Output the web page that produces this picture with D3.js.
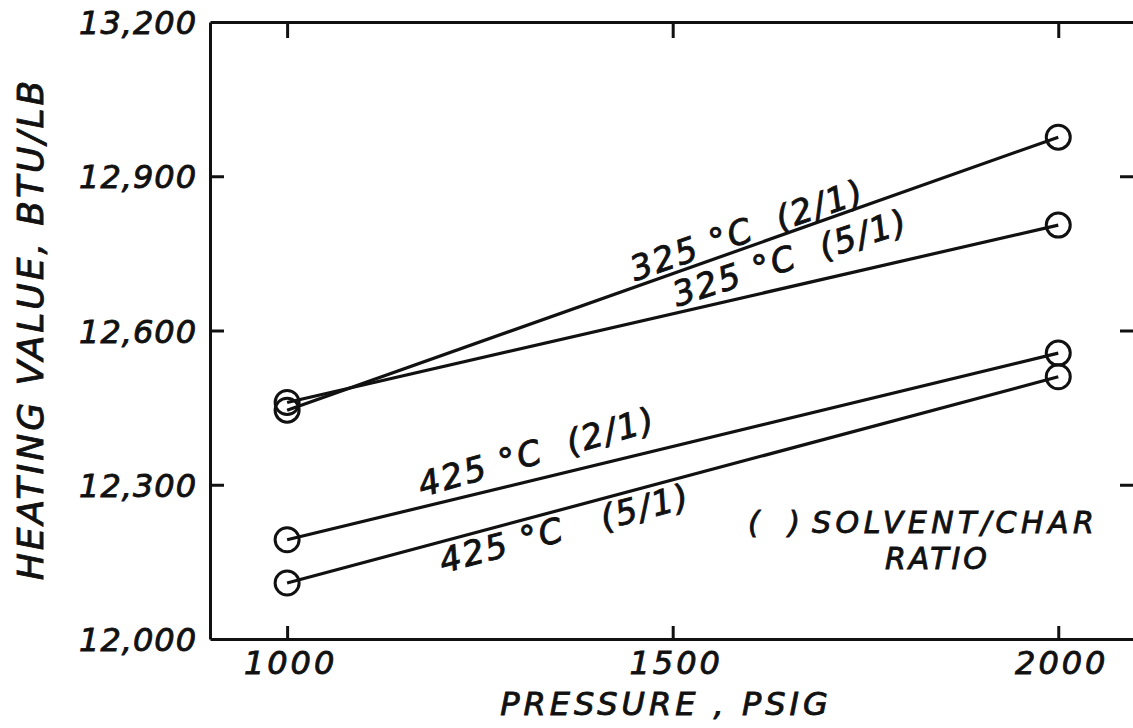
<!DOCTYPE html>
<html>
<head>
<meta charset="utf-8">
<script src="https://cdn.jsdelivr.net/npm/d3@7"></script>
<style>
  html, body { margin: 0; padding: 0; background: #fff; }
  svg { display: block; }
  text { font-family: "DejaVu Sans", sans-serif; font-style: oblique; fill: #111; stroke: #111; stroke-width: 0.9; white-space: pre; }
  .frame path.domain, .frame line { stroke: #111; stroke-width: 3; }
  .series-line { stroke: #111; stroke-width: 3.2; fill: none; }
  .pt { stroke: #111; stroke-width: 3; fill: none; }
</style>
</head>
<body>
<div id="chart"></div>
<script>
// ---- data ----
var PRESSURE = [1000, 2000];                       // psig
var SERIES = ["325 °C (2/1)", "325 °C (5/1)", "425 °C (2/1)", "425 °C (5/1)"];
var HV_325_2 = [12445, 12976];                     // Btu/lb
var HV_325_5 = [12460, 12805];
var HV_425_2 = [12193, 12556];
var HV_425_5 = [12109, 12510];
var X_TICKS = [1000, 1500, 2000];
var Y_TICKS = [12000, 12300, 12600, 12900, 13200];
var Y_TICK_LABELS = ["12,000", "12,300", "12,600", "12,900", "13,200"];
// label anchor in data units + tilt (deg)
var LABEL_P = [1451, 1506, 1175, 1202];
var LABEL_V = [12696, 12646, 12276, 12128];
var LABEL_ROT = [-19, -18, -16, -15];
var LABEL_TXT = ["325 °C  (2/1)", "325 °C  (5/1)", "425 °C  (2/1)", "425 °C   (5/1)"];

(function () {
  var W = 1133, H = 728;
  var svg = d3.select("#chart").append("svg").attr("width", W).attr("height", H);

  // plot frame runs past the right edge of the picture
  var x = d3.scaleLinear().domain([900, 2106]).range([210, 1140]);
  var y = d3.scaleLinear().domain([12000, 13200]).range([639, 22]);

  var values = [HV_325_2, HV_325_5, HV_425_2, HV_425_5];

  // ---- axes / frame ----
  var gL = svg.append("g").attr("class", "frame").attr("transform", "translate(210,0)")
    .call(d3.axisLeft(y).tickValues(Y_TICKS).tickSizeInner(-14).tickSizeOuter(0).tickPadding(13)
      .tickFormat(function (d, i) { return Y_TICK_LABELS[i]; }));
  gL.selectAll("line").filter(function (d) { return d === 12000 || d === 13200; }).remove();
  gL.selectAll("text").attr("font-size", 32).attr("letter-spacing", 1).attr("dy", "0.36em");

  var gB = svg.append("g").attr("class", "frame").attr("transform", "translate(0,639)")
    .call(d3.axisBottom(x).tickValues(X_TICKS).tickSizeInner(-13).tickSizeOuter(0).tickPadding(12)
      .tickFormat(d3.format("d")));
  gB.selectAll("text").attr("font-size", 32).attr("letter-spacing", 3).attr("dx", 3);

  svg.append("g").attr("class", "frame").attr("transform", "translate(0,22)")
    .call(d3.axisTop(x).tickValues(X_TICKS).tickSizeInner(-16).tickSizeOuter(0).tickFormat(""));

  svg.append("g").attr("class", "frame").attr("transform", "translate(1140,0)")
    .call(d3.axisRight(y).tickValues([12300, 12600, 12900]).tickSizeInner(-20).tickSizeOuter(0).tickFormat(""));

  svg.selectAll(".frame text").attr("fill", "#111").attr("font-family", "DejaVu Sans").attr("font-style", "oblique");

  // ---- axis titles ----
  svg.append("text").attr("transform", "translate(43,329) rotate(-90)")
    .attr("text-anchor", "middle").attr("font-size", 36).attr("letter-spacing", 3)
    .text("HEATING VALUE, BTU/LB");
  svg.append("text").attr("x", 666).attr("y", 715)
    .attr("text-anchor", "middle").attr("font-size", 32).attr("letter-spacing", 4)
    .text("PRESSURE , PSIG");

  // ---- series ----
  var line = d3.line().x(function (d) { return x(d[0]); }).y(function (d) { return y(d[1]); });
  SERIES.forEach(function (name, i) {
    var pts = PRESSURE.map(function (p, j) { return [p, values[i][j]]; });
    svg.append("path").attr("class", "series-line").attr("d", line(pts));
    svg.selectAll(null).data(pts).enter().append("circle").attr("class", "pt")
      .attr("cx", function (d) { return x(d[0]); })
      .attr("cy", function (d) { return y(d[1]); })
      .attr("r", 12);
    svg.append("text")
      .attr("transform", "translate(" + x(LABEL_P[i]) + "," + y(LABEL_V[i]) + ") rotate(" + LABEL_ROT[i] + ")")
      .attr("font-size", 34).attr("letter-spacing", 2)
      .text(LABEL_TXT[i]);
  });

  // ---- key ----
  svg.append("text").attr("x", 748).attr("y", 533).attr("font-size", 30).text("(   )");
  svg.append("text").attr("x", 812).attr("y", 533).attr("font-size", 30).attr("letter-spacing", 4.5).text("SOLVENT/CHAR");
  svg.append("text").attr("x", 885).attr("y", 569).attr("font-size", 30).attr("letter-spacing", 3).text("RATIO");
})();
</script>
</body>
</html>
